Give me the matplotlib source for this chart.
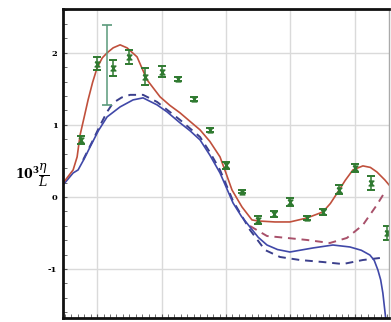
import numpy as np
import matplotlib
matplotlib.use('Agg')
import matplotlib.pyplot as plt
from matplotlib.ticker import MultipleLocator

plt.rcParams['mathtext.fontset'] = 'dejavuserif'

# measured points (green, with error bars)
x_pts = [0.75, 1.0, 1.25, 1.5, 1.75, 2.0, 2.25, 2.5, 2.75, 3.0, 3.25, 3.5,
         3.75, 4.0, 4.25, 4.5, 4.75, 5.0, 5.25, 5.5]
y_pts = [0.79, 1.85, 1.79, 1.94, 1.67, 1.74, 1.64, 1.36, 0.93, 0.44, 0.07, -0.32,
         -0.24, -0.07, -0.29, -0.21, 0.10, 0.40, 0.19, -0.50]
y_err = [0.06, 0.09, 0.11, 0.10, 0.12, 0.08, 0.03, 0.03, 0.03, 0.05, 0.02, 0.05,
         0.04, 0.06, 0.03, 0.04, 0.06, 0.06, 0.10, 0.10]

# the single wide error bar
x_big = [1.155]
y_big = [1.83]
err_big = [0.55]

# model curves
x_red = [0.473, 0.628, 0.690, 0.736, 0.800, 0.860, 0.930, 1.0, 1.080, 1.155, 1.250,
         1.357, 1.465, 1.620, 1.775, 1.977, 2.130, 2.287, 2.440, 2.597, 2.750,
         2.907, 3.000, 3.093, 3.248, 3.403, 3.496, 3.760, 3.992, 4.256, 4.504,
         4.620, 4.736, 4.850, 4.969, 5.124, 5.240, 5.341, 5.465, 5.543]
y_red = [0.194, 0.375, 0.556, 0.861, 1.110, 1.347, 1.590, 1.792, 1.930, 2.0, 2.070,
         2.111, 2.069, 1.944, 1.625, 1.389, 1.270, 1.167, 1.050, 0.931, 0.770,
         0.556, 0.330, 0.097, -0.139, -0.319, -0.333, -0.347, -0.347, -0.292,
         -0.208, -0.090, 0.069, 0.230, 0.375, 0.431, 0.410, 0.347, 0.236, 0.153]

x_blue = [0.473, 0.628, 0.705, 0.800, 0.891, 1.020, 1.155, 1.357, 1.558, 1.713,
          1.930, 2.085, 2.287, 2.440, 2.597, 2.750, 2.907, 3.109, 3.240, 3.372,
          3.500, 3.636, 3.800, 3.992, 4.349, 4.659, 4.922, 5.100, 5.233, 5.300,
          5.357, 5.400, 5.434, 5.481]
y_blue = [0.167, 0.333, 0.375, 0.530, 0.694, 0.920, 1.111, 1.25, 1.347, 1.375,
          1.278, 1.181, 1.028, 0.920, 0.792, 0.580, 0.333, -0.083, -0.270, -0.417,
          -0.560, -0.667, -0.730, -0.764, -0.708, -0.667, -0.694, -0.740, -0.806,
          -0.880, -1.014, -1.150, -1.333, -1.708]

x_blue_d = [0.783, 0.938, 1.050, 1.155, 1.248, 1.380, 1.512, 1.713, 1.930, 2.287,
            2.597, 2.750, 2.907, 3.109, 3.372, 3.605, 3.837, 4.147, 4.504, 4.814,
            5.124, 5.388]
y_blue_d = [0.514, 0.792, 1.000, 1.181, 1.306, 1.380, 1.417, 1.417, 1.319, 1.069,
            0.833, 0.620, 0.375, -0.056, -0.458, -0.736, -0.833, -0.875, -0.903,
            -0.931, -0.875, -0.847]

x_red_d = [3.372, 3.636, 3.946, 4.256, 4.612, 4.876, 5.124, 5.341, 5.465]
y_red_d = [-0.403, -0.542, -0.569, -0.597, -0.639, -0.569, -0.389, -0.111, 0.069]

hourglass = [(-1, 1), (1, 1), (-1, -1), (1, -1), (-1, 1)]

fig = plt.figure(figsize=(3.91, 3.22), dpi=100)
ax = fig.add_axes([0.161, 0.0124, 0.834, 0.96])

ax.grid(True, color='#dadada', linewidth=1.0)
ax.set_axisbelow(True)

ax.plot(x_blue_d, y_blue_d, color='#3b3f8c', linewidth=1.4, dashes=(4, 3))
ax.plot(x_red_d, y_red_d, color='#a8506a', linewidth=1.4, dashes=(4, 3))
ax.plot(x_blue, y_blue, color='#4048a8', linewidth=1.2)
ax.plot(x_red, y_red, color='#c0503c', linewidth=1.2)

ax.errorbar(x_big, y_big, yerr=err_big, fmt='none', ecolor='#5a9a7a',
            elinewidth=1.1, capsize=3.5, capthick=1.2)
ax.errorbar(x_pts, y_pts, yerr=y_err, fmt='none', ecolor='#2f7a30',
            elinewidth=1.1, capsize=3, capthick=1.4)
ax.plot(x_pts, y_pts, linestyle='none', marker=hourglass, markersize=3.5,
        color='#2f7a30')

ax.set_xlim(0.47, 5.53)
ax.set_ylim(-1.68, 2.61)
ax.xaxis.set_major_locator(MultipleLocator(1))
ax.xaxis.set_minor_locator(MultipleLocator(0.1))
ax.yaxis.set_major_locator(MultipleLocator(1))
ax.yaxis.set_minor_locator(MultipleLocator(0.2))
ax.set_yticks([-1, 0, 1, 2])
ax.set_yticklabels(['-1', '0', '1', '2'], fontfamily='DejaVu Serif',
                   fontweight='bold', fontsize=6)
ax.set_xticklabels([])
ax.tick_params(axis='both', which='both', direction='in', length=3, color='#555555')
ax.tick_params(axis='y', pad=4)

for side in ['left', 'top', 'bottom']:
    ax.spines[side].set_linewidth(2.0)
    ax.spines[side].set_color('#111111')
ax.spines['right'].set_linewidth(1.0)
ax.spines['right'].set_color('#aaaaaa')

fig.text(0.082, 0.455, r'$\mathbf{10^3}\dfrac{\eta}{L}$', fontsize=9,
         ha='center', va='center')

fig.savefig('out.png', dpi=100)
